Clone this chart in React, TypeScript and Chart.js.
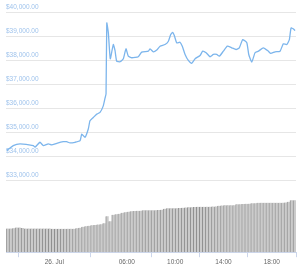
import React, { useEffect, useRef } from "react";
import { Chart, registerables } from "chart.js";

Chart.register(...registerables);

// hours since 25 Jul 20:00
const priceHours = [0.06,0.6,1.16,2.26,2.4,2.81,3.09,3.5,3.78,4.2,4.74,5.02,5.3,5.71,6.13,6.27,6.54,6.81,6.95,7.23,7.51,7.78,8.05,8.19,8.28,8.34,8.47,8.63,8.88,9.02,9.16,9.44,9.71,9.93,10.12,10.41,10.95,11.23,11.78,11.92,12.19,12.48,12.75,13.16,13.44,13.63,13.8,13.93,14.13,14.4,14.59,14.82,15.09,15.37,15.65,16.06,16.28,16.56,16.89,17.16,17.44,17.66,17.99,18.32,18.68,19.04,19.31,19.59,19.93,20.09,20.34,20.61,20.89,21.3,21.71,21.91,22.27,22.68,22.95,23.24,23.45,23.59,23.78,23.92];
const priceValues = [34229,34436,34506,34436,34370,34577,34436,34506,34465,34535,34602,34600,34548,34577,34643,34920,34784,35127,35471,35611,35748,35818,36092,36400,36600,39545,39130,38054,38646,38400,37955,37930,38050,38468,38162,38096,38137,38327,38369,38468,38340,38420,38576,38646,38783,39060,39155,39019,38717,38741,38576,38232,37984,37860,38054,38191,38369,38303,38137,38232,38232,38162,38369,38576,38510,38439,38510,38853,38717,38232,37913,38303,38369,38510,38369,38274,38344,38369,38675,38646,38853,39338,39296,39226];

// 24h volume (billion USD), one bar per 15 minutes
const volumeValues = [23.7,23.8,24,24.7,24.7,24.2,23.8,23.7,23.7,23.7,23.7,23.7,23.7,23.7,23.7,23.5,23.5,23.5,23.5,23.5,23.6,23.6,23.5,24,24.5,25.5,26,26.5,27,27.3,27.7,28,29,36,31,37.5,38,38.5,39.5,40,40.7,41,41.3,41.5,41.7,42,42,42,42.2,42.2,42.3,42.5,43.5,44,44,44,44.2,44.3,44.5,44.8,45,45.2,45.3,45.5,45.5,45.6,45.7,45.7,45.8,45.9,46.5,46.8,47,47,47,47.2,48,48.2,48.3,48.5,48.7,49,49.2,49.5,49.7,49.7,49.7,49.7,49.7,49.7,49.7,49.7,49.8,50.5,52,52];

const xTickHours = [4, 10, 14, 18, 22];
const xTickLabels = ["26. Jul", "06:00", "10:00", "14:00", "18:00"];
const priceTicks = [33000, 34000, 35000, 36000, 37000, 38000, 39000, 40000];

export default function App() {
  const ref = useRef<HTMLCanvasElement>(null);
  useEffect(() => {
    document.body.style.margin = "0";
    const pricePts = priceHours.map((h, i) => ({ x: h, y: priceValues[i] }));
    const volPts = volumeValues.map((v, i) => ({ x: 0.125 + 0.25 * i, y: v }));
    const chart = new Chart(ref.current!, {
      type: "bar",
      data: {
        datasets: [
          {
            type: "line",
            data: pricePts,
            yAxisID: "y",
            borderColor: "#7cb5ec",
            borderWidth: 1.3,
            pointRadius: 0,
            tension: 0.15,
            order: 0,
          } as any,
          {
            type: "bar",
            data: volPts,
            yAxisID: "v",
            backgroundColor: "#cbcbcb",
            borderColor: "#8f8f8f",
            borderWidth: { left: 1, right: 0, top: 0, bottom: 0 },
            borderSkipped: false,
            barPercentage: 1,
            categoryPercentage: 1,
            order: 1,
          } as any,
        ],
      },
      options: {
        responsive: false,
        animation: false,
        layout: { padding: { left: 6, right: 4, top: 12, bottom: 3 } },
        plugins: { legend: { display: false }, tooltip: { enabled: false } },
        scales: {
          x: {
            type: "linear",
            min: 0,
            max: 24,
            offset: false,
            afterBuildTicks: (s: any) => {
              s.ticks = xTickHours.map((v) => ({ value: v }));
            },
            ticks: {
              autoSkip: false,
              maxRotation: 0,
              padding: 1,
              color: "#666666",
              font: { family: "Liberation Sans", size: 6.5 },
              callback: (v: any) => {
                const i = xTickHours.indexOf(Number(v));
                return i >= 0 ? xTickLabels[i] : "";
              },
            },
            grid: { drawOnChartArea: false, drawTicks: true, tickLength: 5, color: "#ccd6eb" },
            border: { display: true, color: "#ccd6eb" },
          },
          y: {
            position: "left",
            min: 30000,
            max: 40000,
            afterBuildTicks: (s: any) => {
              s.ticks = priceTicks.map((v) => ({ value: v }));
            },
            ticks: {
              mirror: true,
              padding: 0,
              labelOffset: -4.5,
              color: "#9fc3ec",
              font: { family: "Liberation Sans", size: 6.5 },
              callback: (v: any) =>
                "$" + Number(v).toLocaleString("en-US", { minimumFractionDigits: 2, maximumFractionDigits: 2 }),
            },
            grid: { drawTicks: false, color: "#e6e6e6" },
            border: { display: false },
          },
          v: {
            display: false,
            min: 0,
            max: 241,
          },
        },
      },
    });
    return () => chart.destroy();
  }, []);
  return <canvas ref={ref} width={300} height={270} style={{ display: "block" }} />;
}
